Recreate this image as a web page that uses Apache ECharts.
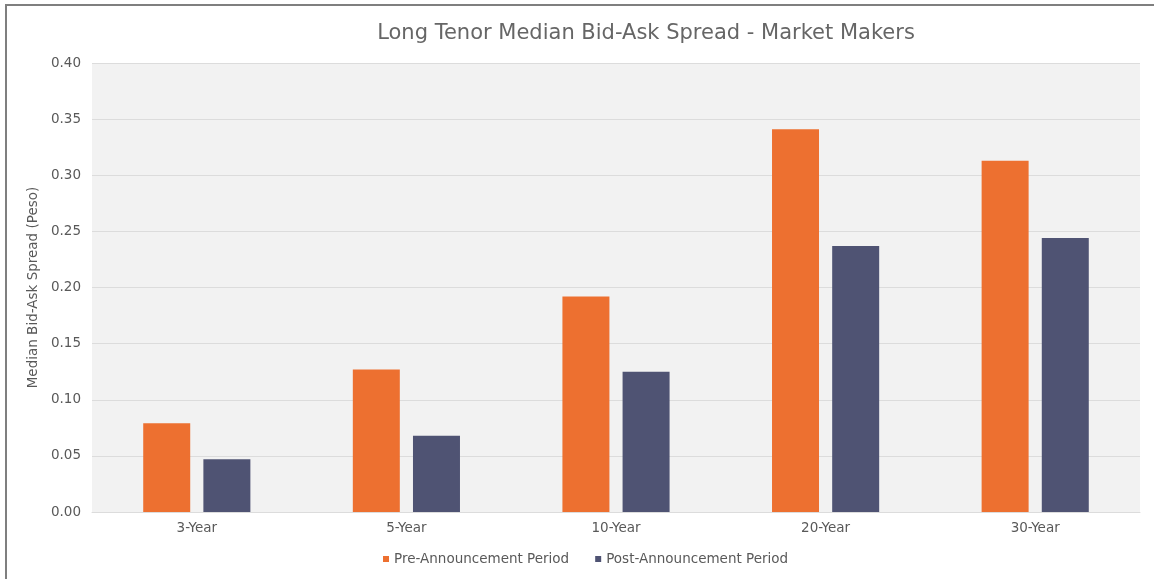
<!DOCTYPE html>
<html>
<head>
<meta charset="utf-8">
<script src="https://cdn.jsdelivr.net/npm/echarts@6/dist/echarts.min.js"></script>
<style>
html,body{margin:0;padding:0;background:#fff;}
#frame{position:absolute;left:5px;top:4px;width:1160px;height:600px;border:2px solid #7f7f7f;box-sizing:border-box;}
#chart{position:absolute;left:0;top:0;width:1154px;height:579px;}
</style>
</head>
<body>
<div id="frame"></div>
<div id="chart"></div>
<script>
const categories = ['3-Year', '5-Year', '10-Year', '20-Year', '30-Year'];
const preAnnouncement = [0.079, 0.127, 0.192, 0.341, 0.313];
const postAnnouncement = [0.047, 0.068, 0.125, 0.237, 0.244];
const seriesNames = ['Pre-Announcement Period', 'Post-Announcement Period'];

const chart = echarts.init(document.getElementById('chart'));
const font = '"DejaVu Sans", sans-serif';
chart.setOption({
  animation: false,
  textStyle: { fontFamily: font },
  title: {
    text: 'Long Tenor Median Bid-Ask Spread - Market Makers',
    left: 641, top: 18, textAlign: 'center',
    textStyle: { fontSize: 21, fontWeight: 'normal', color: '#666666', fontFamily: font }
  },
  legend: {
    bottom: 8, left: 378, itemWidth: 6, itemHeight: 6, itemGap: 26,
    icon: 'rect',
    textStyle: { fontSize: 13.5, color: '#595959', fontFamily: font }
  },
  grid: {
    left: 92, right: 14, top: 63, bottom: 67,
    show: true, backgroundColor: '#f2f2f2', borderWidth: 0
  },
  xAxis: {
    type: 'category', data: categories,
    axisLine: { show: true, lineStyle: { color: '#dcdcdc', width: 1 } },
    axisTick: { show: false },
    axisLabel: { fontSize: 13.5, color: '#595959', margin: 9 }
  },
  yAxis: {
    type: 'value', min: 0, max: 0.4, interval: 0.05,
    name: 'Median Bid-Ask Spread (Peso)', nameLocation: 'middle', nameGap: 47,
    nameTextStyle: { fontSize: 13.5, color: '#595959' },
    axisLine: { show: false }, axisTick: { show: false },
    axisLabel: { fontSize: 13.5, color: '#595959', margin: 11, formatter: v => v.toFixed(2) },
    splitLine: { lineStyle: { color: '#dcdcdc', width: 1 } }
  },
  series: [
    { name: seriesNames[0], type: 'bar', data: preAnnouncement, barWidth: 47, barGap: '28%',
      itemStyle: { color: '#ed7030' } },
    { name: seriesNames[1], type: 'bar', data: postAnnouncement, barWidth: 47,
      itemStyle: { color: '#4f5373' } }
  ]
});
</script>
</body>
</html>
